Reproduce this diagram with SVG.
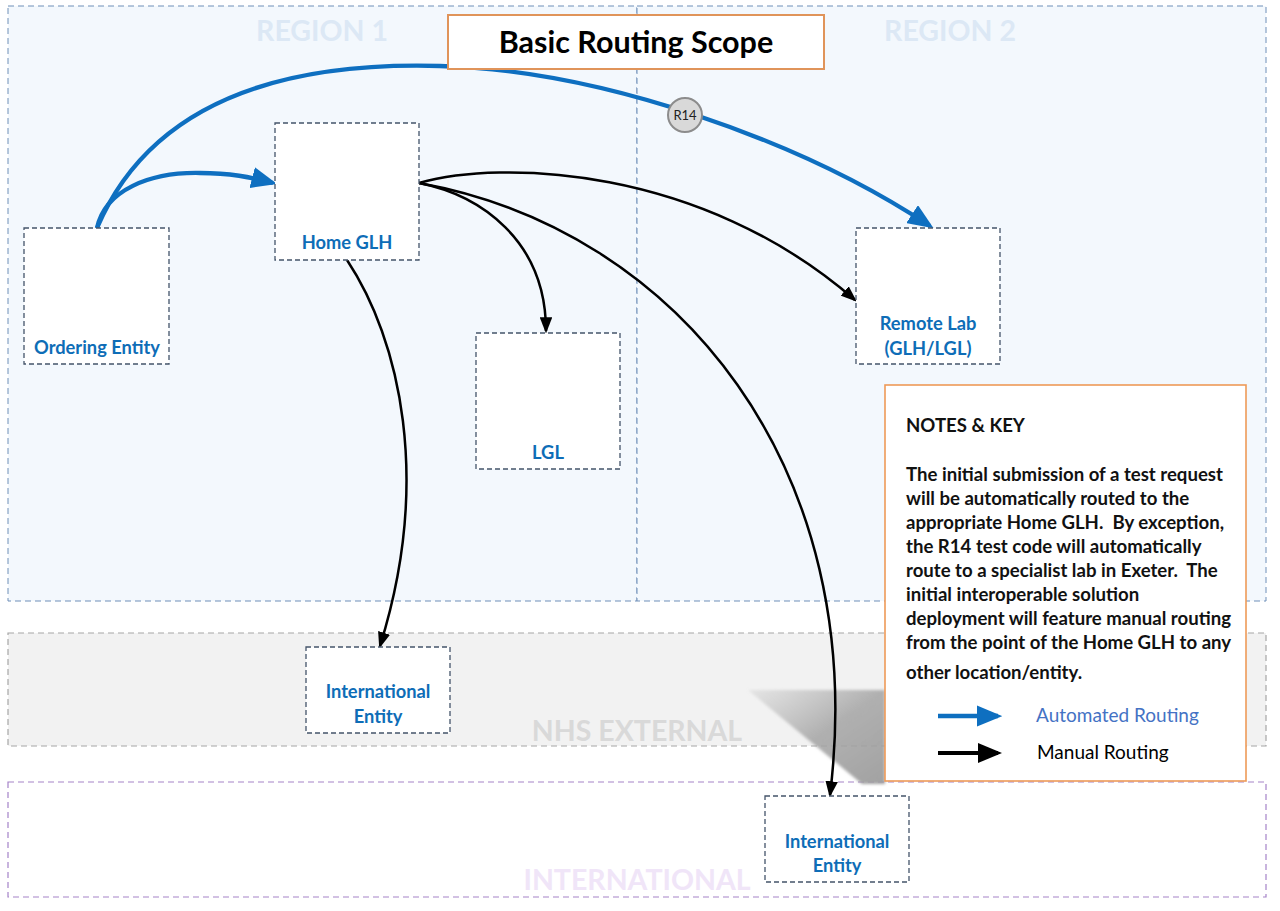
<svg xmlns="http://www.w3.org/2000/svg" width="1280" height="911" viewBox="0 0 1280 911">
<style>
.region{fill:#F3F8FD;stroke:#6F8FB8;stroke-width:1;stroke-dasharray:6,4}
.band-nhs{fill:#F2F2F2;stroke:#A6A6A6;stroke-width:1.2;stroke-dasharray:6,4}
.band-int{fill:#FFFFFF;stroke:#A583C8;stroke-width:1.2;stroke-dasharray:6,4}
.rlabel{font-family:Lato,"Open Sans","Liberation Sans",sans-serif;font-weight:bold;font-size:28.5px;text-anchor:middle}
.node rect{fill:#FFFFFF;stroke:#44546A;stroke-width:1.3;stroke-dasharray:5,3}
.nlabel{font-family:Lato,"Open Sans","Liberation Sans",sans-serif;font-weight:bold;font-size:18.3px;fill:#0E6DB7;text-anchor:middle}
.auto{fill:none;stroke:#0E6FC0;stroke-width:4.3}
.man{fill:none;stroke:#000000;stroke-width:2.5}
.keyman{fill:none;stroke:#000000;stroke-width:4}
.note{font-family:Lato,"Open Sans","Liberation Sans",sans-serif;font-weight:bold;font-size:18.6px;fill:#111111}
.key{font-family:Lato,"Open Sans","Liberation Sans",sans-serif;font-size:19px}
</style>
<defs>
<marker id="ab" markerWidth="6" markerHeight="5" refX="5" refY="2.5" orient="auto" markerUnits="strokeWidth">
<path d="M0,0 L6,2.5 L0,5 z" fill="#0E6FC0"/>
</marker>
<marker id="akb" markerWidth="6" markerHeight="5" refX="5" refY="2.5" orient="auto" markerUnits="strokeWidth">
<path d="M0,0 L6,2.5 L0,5 z" fill="#000000"/>
</marker>
<marker id="ak" markerWidth="6.5" markerHeight="5" refX="5.5" refY="2.5" orient="auto" markerUnits="strokeWidth">
<path d="M0,0 L6.5,2.5 L0,5 z" fill="#000000"/>
</marker>
<linearGradient id="shadow" x1="0" y1="0" x2="1" y2="1">
<stop offset="0" stop-color="#B0B0B0" stop-opacity="0.2"/>
<stop offset="0.5" stop-color="#A4A4A4" stop-opacity="0.85"/>
<stop offset="1" stop-color="#9C9C9C" stop-opacity="0.95"/>
</linearGradient>
<filter id="soft" x="-10%" y="-10%" width="120%" height="120%">
<feGaussianBlur stdDeviation="1.5"/>
</filter>
</defs>

<g id="regions">
<rect class="region" x="8" y="6" width="629" height="595"/>
<rect class="region" x="637" y="6" width="629" height="595"/>
<text class="rlabel" x="322" y="41" fill="#DCE8F5">REGION 1</text>
<text class="rlabel" x="950" y="41" fill="#DCE8F5">REGION 2</text>
<rect class="band-nhs" x="8" y="633" width="1258" height="113"/>
<text class="rlabel" x="637" y="741" fill="#D9D9D9">NHS EXTERNAL</text>
<rect class="band-int" x="8" y="782" width="1258" height="115"/>
<text class="rlabel" x="637" y="890" fill="#F0E5F8">INTERNATIONAL</text>
<polygon points="748,690 885,690 885,784 862,784" fill="url(#shadow)" filter="url(#soft)"/>
</g>

<g id="connectors">
<path class="auto" d="M97,228 C155,92 300,62 440,66 C600,70 800,140 930,226" marker-end="url(#ab)"/>
<path class="auto" d="M97,228 C105,190 150,172 200,173 C230,173 250,177 273,183" marker-end="url(#ab)"/>
<path class="man" d="M419,183 C500,160 700,165 855,300" marker-end="url(#ak)"/>
<path class="man" d="M419,183 C480,195 546,240 546,331" marker-end="url(#ak)"/>
<path class="man" d="M419,183 C680,230 870,470 830,795" marker-end="url(#ak)"/>
<path class="man" d="M347,260 C400,340 432,480 380,646" marker-end="url(#ak)"/>
</g>

<g id="r14">
<circle cx="685" cy="115" r="17" fill="#D9D9D9" stroke="#8C8C8C" stroke-width="2"/>
<text x="685" y="119.5" font-family="Lato,'Open Sans','Liberation Sans',sans-serif" font-size="13" fill="#222222" text-anchor="middle">R14</text>
</g>

<g id="title">
<rect x="448" y="15" width="376" height="54" fill="#FFFFFF" stroke="#E0945A" stroke-width="2"/>
<text x="636" y="53" font-family="Lato,'Open Sans','Liberation Sans',sans-serif" font-weight="bold" font-size="30.5" fill="#000000" text-anchor="middle">Basic Routing Scope</text>
</g>

<g id="ordering-entity" class="node">
<rect x="24" y="228" width="145" height="136"/>
<text class="nlabel" x="97" y="354">Ordering Entity</text>
</g>
<g id="home-glh" class="node">
<rect x="275" y="123" width="144" height="137"/>
<text class="nlabel" x="347" y="249">Home GLH</text>
</g>
<g id="lgl" class="node">
<rect x="476" y="333" width="144" height="136"/>
<text class="nlabel" x="548" y="459">LGL</text>
</g>
<g id="remote-lab" class="node">
<rect x="856" y="228" width="144" height="136"/>
<text class="nlabel" x="928" y="330">Remote Lab</text>
<text class="nlabel" x="928" y="355">(GLH/LGL)</text>
</g>
<g id="intl-entity-nhs" class="node">
<rect x="306" y="647" width="144" height="86"/>
<text class="nlabel" x="378" y="698">International</text>
<text class="nlabel" x="378" y="723">Entity</text>
</g>
<g id="intl-entity" class="node">
<rect x="765" y="796" width="144" height="86"/>
<text class="nlabel" x="837" y="848">International</text>
<text class="nlabel" x="837" y="872">Entity</text>
</g>

<g id="notes">
<rect x="885" y="385" width="361" height="396" fill="#FFFFFF" stroke="#EE9A58" stroke-width="1.6"/>
<text class="note" x="906" y="432">NOTES &amp; KEY</text>
<text class="note" x="906" y="481">The initial submission of a test request</text>
<text class="note" x="906" y="505">will be automatically routed to the</text>
<text class="note" x="906" y="529" xml:space="preserve">appropriate Home GLH.  By exception,</text>
<text class="note" x="906" y="553">the R14 test code will automatically</text>
<text class="note" x="906" y="577" xml:space="preserve">route to a specialist lab in Exeter.  The</text>
<text class="note" x="906" y="601">initial interoperable solution</text>
<text class="note" x="906" y="625">deployment will feature manual routing</text>
<text class="note" x="906" y="649">from the point of the Home GLH to any</text>
<text class="note" x="906" y="679">other location/entity.</text>
<path class="auto" d="M938,716 L998,716" marker-end="url(#ab)"/>
<text class="key" x="1036" y="722" fill="#4472C4">Automated Routing</text>
<path class="keyman" d="M938,753 L998,753" marker-end="url(#akb)"/>
<text class="key" x="1037" y="759" fill="#000000">Manual Routing</text>
</g>
</svg>
